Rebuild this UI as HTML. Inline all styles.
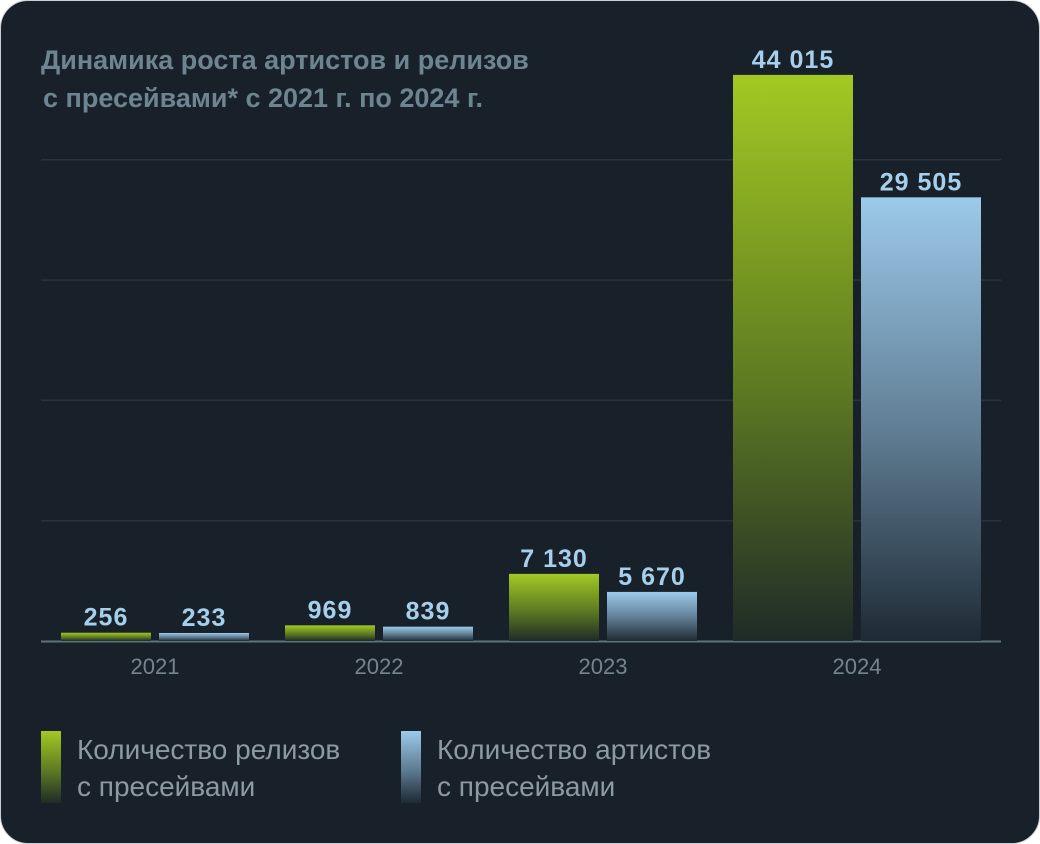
<!DOCTYPE html>
<html><head><meta charset="utf-8">
<style>
html,body{margin:0;padding:0;background:#fff;}
#card{position:absolute;left:0;top:0;width:1038px;height:842px;border:1px solid #c9cfd3;border-radius:28px;background:#18212a;overflow:hidden;font-family:"Liberation Sans",sans-serif;}
svg{position:absolute;left:0;top:0;}
</style></head>
<body>
<div id="card">
<svg id="chart" width="1040" height="844">
<defs>
<linearGradient id="gG" x1="0" y1="0" x2="0" y2="1"><stop offset="0" stop-color="#a2c923"/><stop offset="0.55" stop-color="#5e7a22"/><stop offset="1" stop-color="#1f2b27"/></linearGradient>
<linearGradient id="gB" x1="0" y1="0" x2="0" y2="1"><stop offset="0" stop-color="#9ccaea"/><stop offset="0.55" stop-color="#5d7a90"/><stop offset="1" stop-color="#1e2a34"/></linearGradient>
</defs>
<text x="40" y="68" font-size="27" font-weight="bold" fill="#6e8490">Динамика роста артистов и релизов</text>
<text x="42" y="106" font-size="27" font-weight="bold" fill="#6e8490">с пресейвами* с 2021 г. по 2024 г.</text>
<g id="grid"></g>
<g id="bars"></g>
<rect x="40" y="730" width="20" height="72" fill="url(#gG)"/>
<text x="76" y="758" font-size="28" fill="#8c9aa3">Количество релизов</text>
<text x="76" y="795" font-size="28" fill="#8c9aa3">с пресейвами</text>
<rect x="400" y="730" width="20" height="72" fill="url(#gB)"/>
<text x="436" y="758" font-size="28" fill="#8c9aa3">Количество артистов</text>
<text x="436" y="795" font-size="28" fill="#8c9aa3">с пресейвами</text>
</svg>
</div>
<script>
const years = ["2021","2022","2023","2024"];
const releases = [256, 969, 7130, 44015];
const artists = [233, 839, 5670, 29505];
const labelsRel = ["256","969","7 130","44 015"];
const labelsArt = ["233","839","5 670","29 505"];
const gridLevels = [1,2,3,4];

const NS="http://www.w3.org/2000/svg";
const baseY=640;
// non-linear (piecewise) scale as in the reference illustration
const dom=[0,230,1000,5500,7200,30000,44000];
const rng=[0,8,16,47,68,452,566];
function yScale(v){
  let i=1;
  while(i<dom.length-1 && v>dom[i]) i++;
  const t=(v-dom[i-1])/(dom[i]-dom[i-1]);
  return baseY-(rng[i-1]+t*(rng[i]-rng[i-1]));
}
function xGroup(i){ return [60,284,508,732][i]; }
function bw(i){ return i===3?120:90; }
function mk(tag,attrs){const e=document.createElementNS(NS,tag);for(const k in attrs)e.setAttribute(k,attrs[k]);return e;}
const grid=document.getElementById('grid');
gridLevels.forEach(k=>{
  const l=mk('line',{x1:40,x2:1000,y1:baseY-120.3*k,y2:baseY-120.3*k,stroke:'#27343b','stroke-width':1.5});
  
  
  grid.appendChild(l);
});
const ax=mk('line',{x1:40,x2:1000,y1:baseY+0.5,y2:baseY+0.5,stroke:'#5f727c','stroke-width':2});


grid.appendChild(ax);
const bars=document.getElementById('bars');
years.forEach((y,i)=>{
  const w=bw(i), x0=xGroup(i), x1=x0+w+8;
  [[releases[i],labelsRel[i],x0,'gG','releases'],[artists[i],labelsArt[i],x1,'gB','artists']].forEach(([v,lab,x,g,nm])=>{
    const top=yScale(v);
    const r=mk('rect',{x:x,y:top,width:w,height:baseY-top,fill:'url(#'+g+')'});
    
    
    bars.appendChild(r);
    const t=mk('text',{x:x+w/2,y:top-7,'text-anchor':'middle','font-size':25,'font-weight':'bold',fill:'#a6cfeb','letter-spacing':'1'});
    t.textContent=lab;
    
    
    bars.appendChild(t);
  });
  const yl=mk('text',{x:x0+w+4,y:673,'text-anchor':'middle','font-size':22,fill:'#74858f'});
  yl.textContent=y;
  
  
  bars.appendChild(yl);
});
</script>
</body></html>
